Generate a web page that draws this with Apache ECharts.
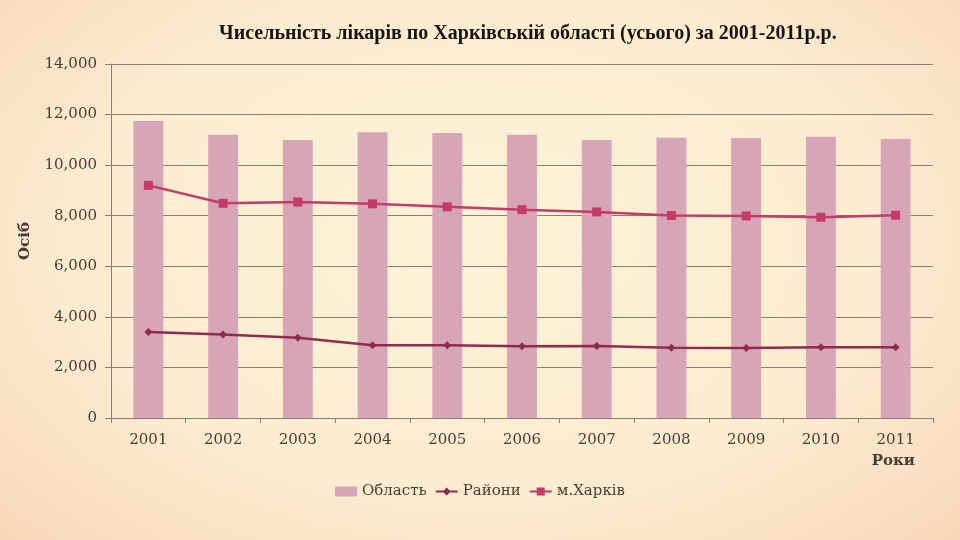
<!DOCTYPE html>
<html lang="uk">
<head>
    <meta charset="UTF-8">
    <title>Чисельність лікарів</title>
    <script src="https://cdn.jsdelivr.net/npm/echarts@6/dist/echarts.min.js"></script>
    <style>
        html, body { margin: 0; padding: 0; }
        body {
            width: 960px; height: 540px; overflow: hidden;
            background: radial-gradient(ellipse 75% 85% at 50% 45%, #fdf2d8 0%, #fcecd0 55%, #f9dcc0 85%, #f6cfb0 100%);
        }
    </style>
</head>
<body>
<div id="chart" style="width: 960px;height:540px;"></div>
<script type="text/javascript">
    var years = ['2001', '2002', '2003', '2004', '2005', '2006', '2007', '2008', '2009', '2010', '2011'];
    // Область
    var oblast = [11750, 11200, 10990, 11300, 11270, 11200, 10990, 11080, 11070, 11120, 11030];
    // Райони
    var raiony = [3400, 3300, 3170, 2880, 2880, 2840, 2850, 2780, 2770, 2800, 2800];
    // м.Харків
    var kharkiv = [9200, 8490, 8540, 8470, 8350, 8240, 8150, 8010, 7990, 7940, 8020];

    var textColor = '#4a3b33';
    var labelFont = 'DejaVu Serif';

    var myChart = echarts.init(document.getElementById('chart'));

    var option = {
        backgroundColor: 'transparent',
        title: {
            text: 'Чисельність лікарів по Харківській області (усього) за 2001-2011р.р.',
            left: 214,
            top: 19,
            textStyle: {
                fontFamily: 'Liberation Serif',
                fontWeight: 'bold',
                fontSize: 20,
                color: '#1a1410'
            }
        },
        legend: {
            bottom: 36,
            left: 'center',
            itemGap: 8,
            itemWidth: 22,
            itemHeight: 10,
            textStyle: { fontFamily: labelFont, fontSize: 15, color: textColor },
            data: [
                { name: 'Область', icon: 'rect', itemStyle: { color: '#d7a5b8' } },
                { name: 'Райони' },
                { name: 'м.Харків' }
            ]
        },
        grid: {
            left: 111,
            right: 27,
            top: 64,
            bottom: 122
        },
        xAxis: {
            type: 'category',
            data: years,
            name: 'Роки',
            nameLocation: 'end',
            nameGap: 0,
            nameTextStyle: {
                fontFamily: labelFont, fontWeight: 'bold', fontSize: 15, color: textColor,
                align: 'right', verticalAlign: 'top', padding: [36, 18, 0, 0]
            },
            axisLine: { lineStyle: { color: '#8a7d74', width: 1 } },
            axisTick: { show: true, length: 5, lineStyle: { color: '#8a7d74' } },
            axisLabel: { fontFamily: labelFont, fontSize: 15, color: textColor, margin: 15 }
        },
        yAxis: {
            type: 'value',
            min: 0,
            max: 14000,
            interval: 2000,
            name: 'Осіб',
            nameLocation: 'middle',
            nameGap: 78,
            nameTextStyle: { fontFamily: labelFont, fontWeight: 'bold', fontSize: 15, color: textColor },
            axisLine: { show: true, lineStyle: { color: '#8a7d74', width: 1 } },
            axisTick: { show: true, length: 6, lineStyle: { color: '#8a7d74' } },
            axisLabel: {
                fontFamily: labelFont, fontSize: 15, color: textColor, margin: 14,
                formatter: function (v) { return v.toLocaleString('en-US'); }
            },
            splitLine: { lineStyle: { color: '#8a7d74', width: 1 } }
        },
        series: [
            {
                name: 'Область',
                type: 'bar',
                data: oblast,
                barWidth: '40%',
                itemStyle: { color: '#d7a5b8' }
            },
            {
                name: 'Райони',
                type: 'line',
                data: raiony,
                symbol: 'diamond',
                symbolSize: 8,
                lineStyle: { color: '#8e2c4e', width: 2.5 },
                itemStyle: { color: '#8e2c4e' }
            },
            {
                name: 'м.Харків',
                type: 'line',
                data: kharkiv,
                symbol: 'rect',
                symbolSize: 9,
                lineStyle: { color: '#c43a68', width: 2.5 },
                itemStyle: { color: '#c43a68' }
            }
        ]
    };

    myChart.setOption(option);
</script>
</body>
</html>
